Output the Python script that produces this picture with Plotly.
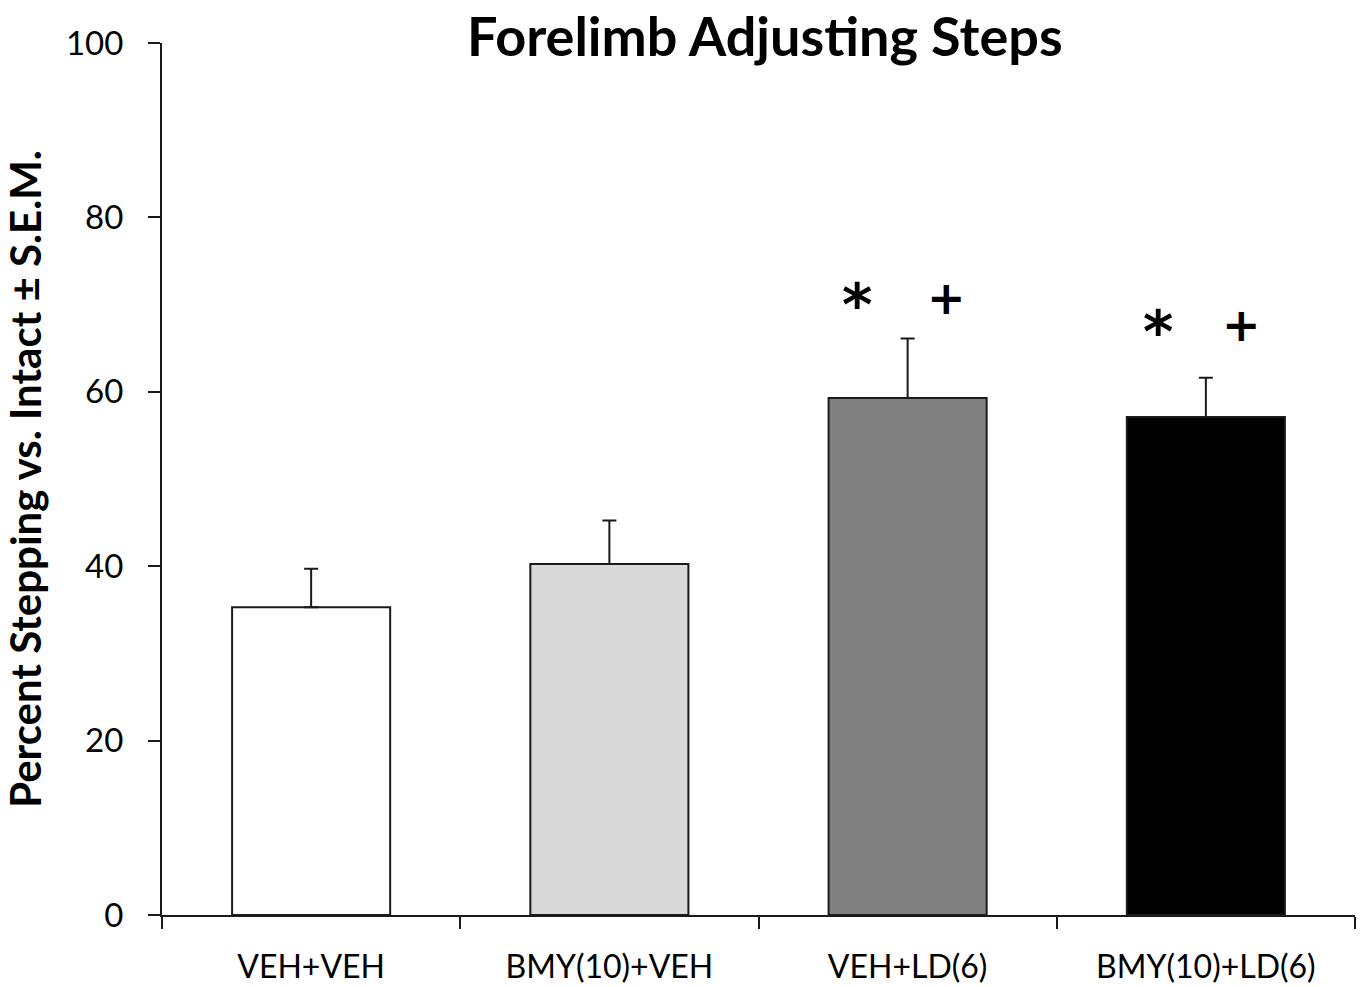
import plotly.graph_objects as go

# Group labels and measurements
groups = ["VEH+VEH", "BMY(10)+VEH", "VEH+LD(6)", "BMY(10)+LD(6)"]
means = [35.3, 40.25, 59.3, 57.1]
sem = [4.4, 5.0, 6.8, 4.5]
bar_colors = ["#ffffff", "#d9d9d9", "#808080", "#000000"]

# Significance markers: (group index, offset within category, y value, symbol)
sig_group = [2, 2, 3, 3]
sig_offset = [-0.17, 0.13, -0.16, 0.12]
sig_y = [70.0, 70.8, 66.9, 67.7]
sig_text = ["*", "+", "*", "+"]
sig_size = [58, 46, 58, 46]

FONT = "Lato"
SYM_FONT = "DejaVu Sans"

fig = go.Figure()
fig.add_trace(go.Bar(
    x=groups,
    y=means,
    width=0.53,
    marker=dict(color=bar_colors, line=dict(color="#1a1a1a", width=2)),
    error_y=dict(type="data", symmetric=False, array=sem,
                 arrayminus=[0] * len(sem), color="#1a1a1a",
                 thickness=2, width=7),
    showlegend=False,
))

for g, off, yv, t, s in zip(sig_group, sig_offset, sig_y, sig_text, sig_size):
    fig.add_annotation(x=g + off, y=yv, xref="x", yref="y", text="<b>%s</b>" % t,
                       showarrow=False, font=dict(family=SYM_FONT, size=s, color="#000000"))

fig.update_layout(
    width=1361, height=987,
    margin=dict(l=162, r=6, t=43, b=72),
    paper_bgcolor="white", plot_bgcolor="white",
    font=dict(family=FONT, color="#000000"),
    title=dict(text="<b>Forelimb Adjusting Steps</b>", x=0.562, xanchor="center",
               y=0.962, yanchor="middle", font=dict(family=FONT, size=54, color="#000000")),
    bargap=0.47,
)

fig.update_xaxes(
    type="category", range=[-0.5, 3.5], automargin=False,
    tickson="boundaries", ticks="outside", ticklen=12, tickwidth=2, tickcolor="#1a1a1a",
    ticklabelstandoff=23,
    showline=True, linecolor="#1a1a1a", linewidth=2,
    showgrid=False, zeroline=False,
    tickfont=dict(family=FONT, size=32, color="#000000"),
)

fig.update_yaxes(
    range=[0, 100], tickvals=[0, 20, 40, 60, 80, 100], automargin=False,
    ticks="outside", ticklen=12, tickwidth=2, tickcolor="#1a1a1a",
    ticklabelstandoff=18,
    showline=True, linecolor="#1a1a1a", linewidth=2,
    showgrid=False, zeroline=False,
    tickfont=dict(family=FONT, size=33, color="#000000"),
    title=dict(text="<b>Percent Stepping vs. Intact ± S.E.M.</b>",
               font=dict(family=FONT, size=42, color="#000000"), standoff=13),
)

fig.write_html("out.html")
